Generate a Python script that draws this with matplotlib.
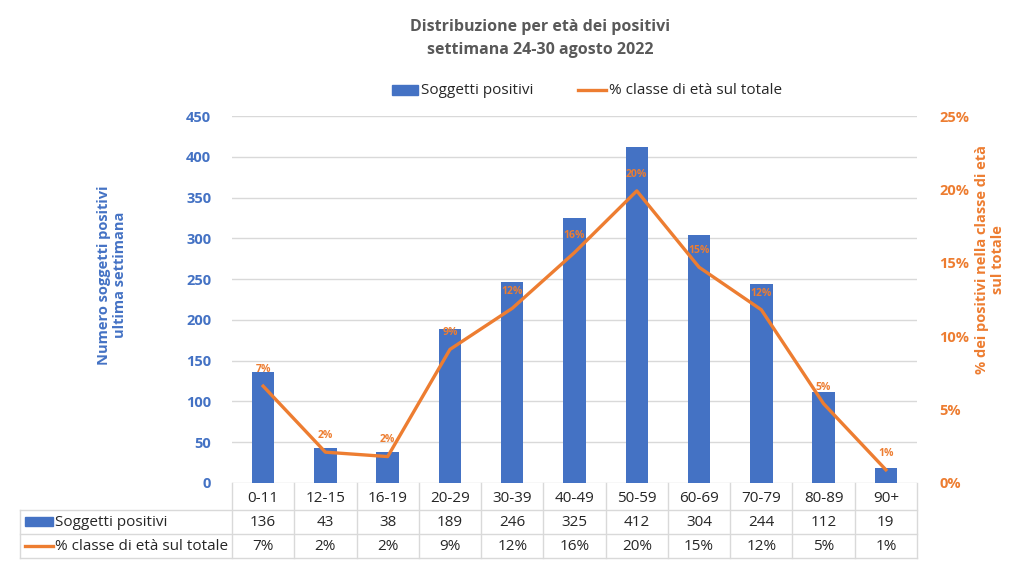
import matplotlib.pyplot as plt
import numpy as np
from matplotlib.patches import Rectangle
from matplotlib.lines import Line2D
from matplotlib.transforms import blended_transform_factory

categories = ['0-11', '12-15', '16-19', '20-29', '30-39', '40-49',
              '50-59', '60-69', '70-79', '80-89', '90+']
positivi = [136, 43, 38, 189, 246, 325, 412, 304, 244, 112, 19]
percentuale = [6.6, 2.1, 1.8, 9.1, 11.9, 15.7, 19.9, 14.7, 11.8, 5.4, 0.9]
perc_labels = ['7%', '2%', '2%', '9%', '12%', '16%', '20%', '15%', '12%', '5%', '1%']

BLUE = '#4472C4'
ORANGE = '#ED7D31'
GRAY = '#595959'
GRID = '#D9D9D9'
TXT = '#262626'

plt.rcParams['font.family'] = ['Open Sans', 'DejaVu Sans']

fig = plt.figure(figsize=(10.24, 5.63), dpi=100)
ax = fig.add_axes([232 / 1024, 1 - 483 / 563, 685 / 1024, 367 / 563])
ax2 = ax.twinx()

x = np.arange(len(categories))
ax.bar(x, positivi, width=0.36, color=BLUE, zorder=2)
ax.set_xlim(-0.5, len(categories) - 0.5)
ax.set_ylim(0, 450)
ax.set_yticks(range(0, 451, 50))
ax.grid(axis='y', color=GRID, lw=1, zorder=0)
ax.set_axisbelow(True)
ax.set_xticks([])
for s in ax.spines.values():
    s.set_visible(False)
ax.tick_params(axis='y', length=0, labelcolor=BLUE, labelsize=10.5, pad=15)
for t in ax.get_yticklabels():
    t.set_fontweight('bold')

ax2.plot(x, percentuale, color=ORANGE, lw=2.4, zorder=3)
ax2.set_ylim(0, 25)
ax2.set_yticks(range(0, 26, 5))
ax2.set_yticklabels([f'{v}%' for v in range(0, 26, 5)])
ax2.tick_params(axis='y', length=0, labelcolor=ORANGE, labelsize=10.5, pad=16)
for t in ax2.get_yticklabels():
    t.set_fontweight('bold')
for s in ax2.spines.values():
    s.set_visible(False)
for xi, v, lab in zip(x, percentuale, perc_labels):
    ax2.annotate(lab, (xi, v), xytext=(0, 8), textcoords='offset points',
                 ha='center', va='bottom', color=ORANGE, fontsize=7.5,
                 fontweight='bold', zorder=4)

fig.text(0.5275, 1 - 27 / 563, 'Distribuzione per età dei positivi', ha='center',
         va='center', color=GRAY, fontsize=11.5, fontweight='bold')
fig.text(0.5275, 1 - 50 / 563, 'settimana 24-30 agosto 2022', ha='center',
         va='center', color=GRAY, fontsize=11.5, fontweight='bold')

fig.text(112 / 1024, 1 - 275 / 563, 'Numero soggetti positivi\nultima settimana',
         rotation=90, ha='center', va='center', color=BLUE, fontsize=10.5,
         fontweight='bold')
fig.text(990 / 1024, 1 - 260 / 563, '% dei positivi nella classe di età\nsul totale',
         rotation=90, ha='center', va='center', color=ORANGE, fontsize=10.5,
         fontweight='bold')

# legend
fig.patches.append(Rectangle((392 / 1024, 1 - 95 / 563), 26 / 1024, 10 / 563,
                             transform=fig.transFigure, color=BLUE))
fig.text(421 / 1024, 1 - 90 / 563, 'Soggetti positivi', va='center', ha='left',
         color=TXT, fontsize=11)
fig.lines.append(Line2D([578 / 1024, 606 / 1024], [1 - 90 / 563] * 2,
                        transform=fig.transFigure, color=ORANGE, lw=2.4))
fig.text(609 / 1024, 1 - 90 / 563, '% classe di età sul totale', va='center',
         ha='left', color=TXT, fontsize=11)

# data table
tr = blended_transform_factory(ax.transData, fig.transFigure)
ys = [1 - 510 / 563, 1 - 534 / 563, 1 - 558 / 563]
ytop = 1 - 483 / 563
for b in np.arange(-0.5, len(categories), 1.0):
    fig.lines.append(Line2D([b, b], [ytop, ys[2]], transform=tr, color=GRID, lw=1))
left = 20 / 1024
right = 917 / 1024
for yy in ys:
    fig.lines.append(Line2D([left, right], [yy, yy], transform=fig.transFigure,
                            color=GRID, lw=1))
fig.lines.append(Line2D([left, left], [ys[0], ys[2]], transform=fig.transFigure,
                        color=GRID, lw=1))
row_c = [1 - 498 / 563, 1 - 522 / 563, 1 - 546 / 563]
for xi, c, p, lab in zip(x, categories, positivi, perc_labels):
    fig.text(xi, row_c[0], c, transform=tr, ha='center', va='center',
             color=TXT, fontsize=11)
    fig.text(xi, row_c[1], str(p), transform=tr, ha='center', va='center',
             color=TXT, fontsize=11)
    fig.text(xi, row_c[2], lab, transform=tr, ha='center', va='center',
             color=TXT, fontsize=11)
fig.patches.append(Rectangle((25 / 1024, row_c[1] - 4 / 563), 28 / 1024, 9 / 563,
                             transform=fig.transFigure, color=BLUE))
fig.text(55 / 1024, row_c[1], 'Soggetti positivi', ha='left', va='center',
         color=TXT, fontsize=11)
fig.lines.append(Line2D([25 / 1024, 53 / 1024], [row_c[2]] * 2,
                        transform=fig.transFigure, color=ORANGE, lw=2.4))
fig.text(55 / 1024, row_c[2], '% classe di età sul totale', ha='left',
         va='center', color=TXT, fontsize=11)

fig.savefig('out.png', dpi=100)
